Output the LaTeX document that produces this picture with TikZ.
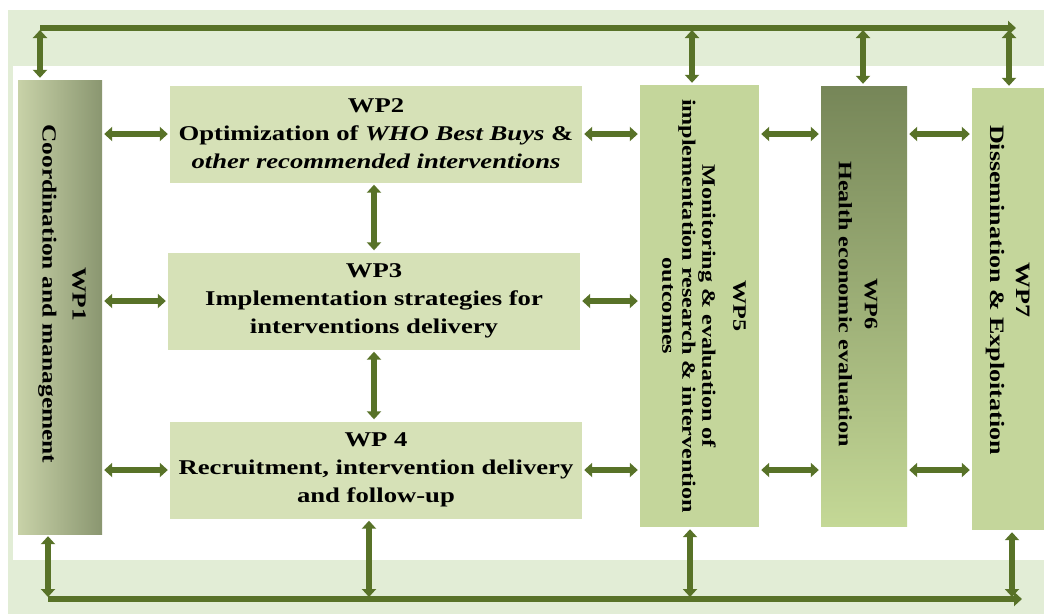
\documentclass[tikz,border=0pt]{standalone}
\usepackage{fontspec}
\setmainfont{Liberation Serif}
\newfontfamily\wpfont[FakeStretch=1.27]{Liberation Serif}
\usetikzlibrary{arrows.meta}
\definecolor{bandgreen}{RGB}{226,237,214}
\definecolor{boxgreen}{RGB}{214,225,183}
\definecolor{colgreen}{RGB}{196,214,155}
\definecolor{arrowgreen}{RGB}{88,114,40}
\definecolor{wpalight}{RGB}{200,210,168}
\definecolor{wpadark}{RGB}{138,150,112}
\definecolor{wpfdark}{RGB}{118,134,88}
\definecolor{wpflight}{RGB}{196,216,150}
\tikzset{
  wpbox/.style={fill=boxgreen, minimum width=412pt, minimum height=97pt, inner sep=0pt,
    align=center, font=\wpfont\bfseries\fontsize{21}{28}\selectfont},
  colbox/.style={inner sep=0pt},
  coltext/.style={rotate=-90, align=center, font=\wpfont\bfseries\fontsize{20}{30}\selectfont},
  link/.style={arrowgreen, line width=6pt, shorten <=2pt, shorten >=2pt,
    {Triangle[width=14pt,length=8pt]}-{Triangle[width=14pt,length=8pt]}},
  bus/.style={arrowgreen, line width=6pt, -{Triangle[width=14pt,length=8pt]}}
}
\begin{document}
\begin{tikzpicture}[x=1pt,y=-1pt]
  \useasboundingbox (0,0) rectangle (1044,614);
  % background band
  \fill[bandgreen] (8,10) rectangle (1044,614);
  \fill[white] (13,66) rectangle (1044,560);

  % work packages
  \node[colbox, left color=wpalight, right color=wpadark, minimum width=84pt, minimum height=454pt] (wp1) at (60,307) {};
  \node[coltext] at (62,294) {WP1\\Coordination and management};

  \node[wpbox] (wp2) at (376,134) {WP2\\Optimization of \textit{WHO Best Buys} \&\\\textit{other recommended interventions}};
  \node[wpbox] (wp3) at (374,301) {WP3\\Implementation strategies for\\interventions delivery};
  \node[wpbox] (wp4) at (376,470) {WP 4\\Recruitment, intervention delivery\\and follow-up};

  \node[colbox, fill=colgreen, minimum width=119pt, minimum height=442pt] (wp5) at (699.5,306) {};
  \node[coltext, font=\wpfont\bfseries\fontsize{19}{20}\selectfont] at (704,306) {WP5\\[11pt]Monitoring \& evaluation of\\implementation research \& intervention\\outcomes};

  \node[colbox, shading angle=160, top color=wpfdark, bottom color=wpflight, minimum width=86pt, minimum height=440pt] (wp6) at (864,306) {};
  \node[coltext, font=\wpfont\bfseries\fontsize{19}{26}\selectfont] at (858,304) {WP6\\Health economic evaluation};

  \node[colbox, fill=colgreen, minimum width=72pt, minimum height=442pt] (wp7) at (1008,309) {};
  \node[coltext, font=\wpfont\bfseries\fontsize{20.5}{26}\selectfont] at (1008,290) {WP7\\Dissemination \& Exploitation};

  % links between packages
  \draw[link] (wp1.east |- wp2) -- (wp2.west);
  \draw[link] (wp1.east |- wp3) -- (wp3.west);
  \draw[link] (wp1.east |- wp4) -- (wp4.west);
  \draw[link] (wp2.south -| wp3) -- (wp3.north);
  \draw[link] (wp3.south) -- (wp3.south |- wp4.north);
  \draw[link] (wp2.east) -- (wp5.west |- wp2);
  \draw[link] (wp3.east) -- (wp5.west |- wp3);
  \draw[link] (wp4.east) -- (wp5.west |- wp4);
  \draw[link] (wp5.east |- wp2) -- (wp6.west |- wp2);
  \draw[link] (wp5.east |- wp4) -- (wp6.west |- wp4);
  \draw[link] (wp6.east |- wp2) -- (wp7.west |- wp2);
  \draw[link] (wp6.east |- wp4) -- (wp7.west |- wp4);

  % top bus
  \coordinate (t1) at (40,28);
  \coordinate (t5) at (692,28);
  \coordinate (t6) at (863,28);
  \coordinate (t7) at (1009,28);
  \coordinate (tR) at (1016,28);
  \draw[bus] (t1) -- (tR);
  \draw[link] (t1) -- (t1 |- wp1.north);
  \draw[link] (t5) -- (t5 |- wp5.north);
  \draw[link] (t6) -- (t6 |- wp6.north);
  \draw[link] (t7) -- (t7 |- wp7.north);

  % bottom bus
  \coordinate (b1) at (48,599);
  \coordinate (b4) at (369,599);
  \coordinate (b5) at (690,599);
  \coordinate (b7) at (1012,599);
  \coordinate (bR) at (1022,599);
  \draw[bus] (b1) -- (bR);
  \draw[link] (b1) -- (b1 |- wp1.south);
  \draw[link] (b4) -- (b4 |- wp4.south);
  \draw[link] (b5) -- (b5 |- wp5.south);
  \draw[link] (b7) -- (b7 |- wp7.south);
\end{tikzpicture}
\end{document}
